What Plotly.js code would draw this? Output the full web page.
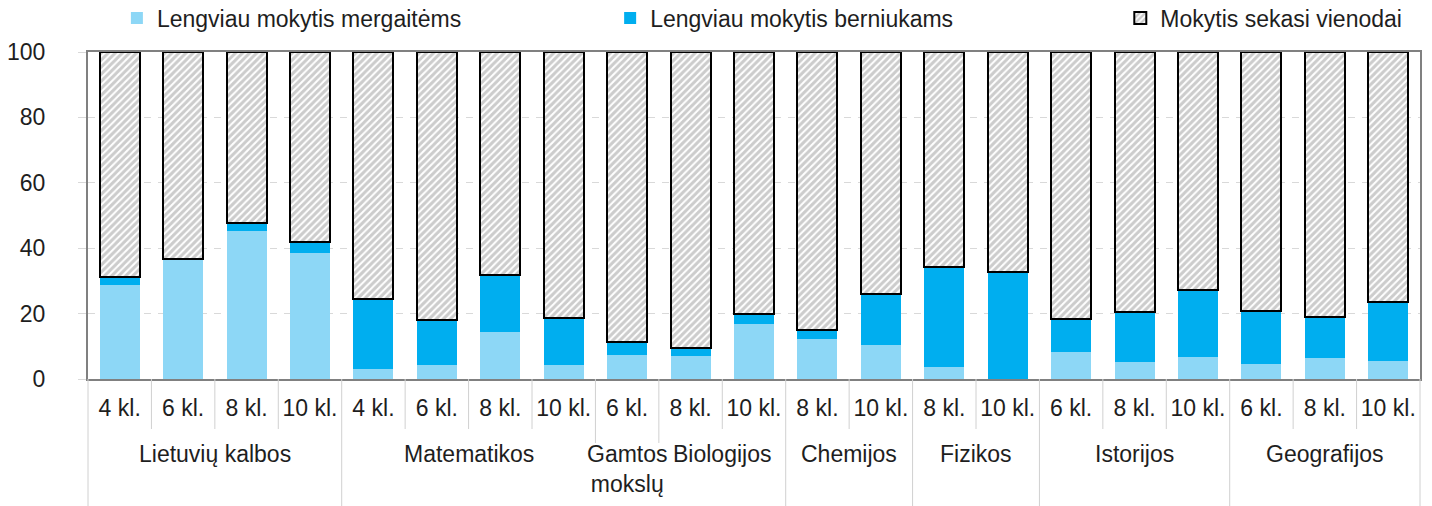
<!DOCTYPE html>
<html>
<head>
<meta charset="utf-8">
<script src="https://cdn.plot.ly/plotly-3.0.1.min.js"></script>
<style>
  html, body { margin: 0; padding: 0; background: #ffffff; }
  #chart { width: 1432px; height: 506px; }
</style>
</head>
<body>
<div id="chart"></div>
<script>
// ---- Data ----
const subjects = ['Lietuvių kalbos', 'Matematikos', 'Gamtos<br>mokslų', 'Biologijos', 'Chemijos', 'Fizikos', 'Istorijos', 'Geografijos'];
const subjectGrades = [
  ['4 kl.', '6 kl.', '8 kl.', '10 kl.'],
  ['4 kl.', '6 kl.', '8 kl.', '10 kl.'],
  ['6 kl.'],
  ['8 kl.', '10 kl.'],
  ['8 kl.', '10 kl.'],
  ['8 kl.', '10 kl.'],
  ['6 kl.', '8 kl.', '10 kl.'],
  ['6 kl.', '8 kl.', '10 kl.']
];
// outer (third-level) grouping: number of subjects per outer block
const outerBlocks = [1, 3, 1, 1, 1, 1];

const seriesNames = ['Lengviau mokytis mergaitėms', 'Lengviau mokytis berniukams', 'Mokytis sekasi vienodai'];
const girls = [28.8, 36.8, 45.4, 38.6, 3.2, 4.4, 14.5, 4.4, 7.4, 7.1, 16.9, 12.3, 10.5, 3.8, 0.0, 8.4, 5.3, 6.7, 4.7, 6.5, 5.6];
const boys  = [2.3, 0.0, 2.2, 3.4, 21.4, 13.7, 17.4, 14.4, 4.0, 2.5, 3.1, 2.8, 15.6, 30.6, 32.8, 10.1, 15.3, 20.6, 16.2, 12.6, 18.0];
const same  = [68.9, 63.2, 52.4, 58.0, 75.4, 81.9, 68.1, 81.2, 88.6, 90.4, 80.0, 84.9, 73.9, 65.6, 67.2, 81.5, 79.4, 72.7, 79.1, 80.9, 76.4];
const yTicks = [0, 20, 40, 60, 80, 100];

// ---- Build categories ----
const gradeLabels = [];
const subjectStart = [];
subjectGrades.forEach(g => { subjectStart.push(gradeLabels.length); g.forEach(l => gradeLabels.push(l)); });
const N = gradeLabels.length;
const xs = gradeLabels.map((_, i) => i);

const FONT = 'Liberation Sans, Arial, sans-serif';
const TXT = '#1e1e1e';
const FS = 23;

const traces = [
  { type: 'bar', name: seriesNames[0], x: xs, y: girls, legend: 'legend',
    marker: { color: '#8dd7f6', line: { width: 0 } } },
  { type: 'bar', name: seriesNames[1], x: xs, y: boys, legend: 'legend2',
    marker: { color: '#00aeef', line: { width: 0 } } },
  { type: 'bar', name: seriesNames[2], x: xs, y: same, legend: 'legend3',
    marker: { color: '#ffffff', line: { color: '#000000', width: 2 },
      pattern: { shape: '/', bgcolor: '#ffffff', fgcolor: '#9a9a9a', size: 5, solidity: 0.6, fillmode: 'overlay' } } }
];

// ---- Separators & group labels (derived from the category arrays) ----
const plotTop = 52, plotBottom = 379, H = plotBottom - plotTop;
const py = (pix) => -(pix - plotBottom) / H;
const shapes = [];
const annotations = [];
const subjectBounds = new Set(subjectStart);
subjectBounds.add(N);
const outerBounds = new Set([0]);
let sIdx = 0;
outerBlocks.forEach(c => {
  sIdx += c;
  outerBounds.add(sIdx < subjects.length ? subjectStart[sIdx] : N);
});
for (let k = 0; k <= N; k++) {
  let yEnd;
  if (outerBounds.has(k)) yEnd = 506;
  else if (subjectBounds.has(k)) yEnd = 443;
  else yEnd = 429;
  shapes.push({ type: 'line', xref: 'paper', yref: 'paper', x0: k / N, x1: k / N, y0: 0, y1: py(yEnd),
    line: { color: '#d0d0d0', width: 1 } });
}
subjects.forEach((s, i) => {
  const a = subjectStart[i];
  const b = a + subjectGrades[i].length;
  annotations.push({ xref: 'paper', yref: 'paper', x: (a + b) / 2 / N, y: py(439), yanchor: 'top', xanchor: 'center',
    text: s, showarrow: false, font: { family: FONT, size: FS, color: TXT } });
});

const legendBase = { orientation: 'h', xanchor: 'left', y: 1.104, yanchor: 'middle',
  font: { family: FONT, size: FS, color: TXT }, bgcolor: 'rgba(0,0,0,0)' };

const layout = {
  width: 1432, height: 506,
  margin: { l: 88, r: 12, t: plotTop, b: 506 - plotBottom, autoexpand: false },
  paper_bgcolor: '#ffffff', plot_bgcolor: '#ffffff',
  barmode: 'stack', bargap: 0.37,
  font: { family: FONT, size: FS, color: TXT },
  showlegend: true,
  legend: Object.assign({}, legendBase, { x: 0.0217 }),
  legend2: Object.assign({}, legendBase, { x: 0.392 }),
  legend3: Object.assign({}, legendBase, { x: 0.775 }),
  xaxis: {
    range: [-0.5, N - 0.5], tickmode: 'array', tickvals: xs, ticktext: gradeLabels,
    ticks: '', showgrid: false, zeroline: false,
    showline: true, linecolor: '#808080', linewidth: 2, mirror: true,
    tickfont: { family: FONT, size: FS, color: TXT }, ticklabelstandoff: 7, tickangle: 0
  },
  yaxis: {
    range: [0, 100], tickmode: 'array', tickvals: yTicks,
    ticks: 'outside', ticklen: 8, tickcolor: '#d9d9d9', tickwidth: 1,
    showgrid: true, gridcolor: '#d9d9d9', gridwidth: 1, griddash: '7px,7px',
    zeroline: false, showline: true, linecolor: '#808080', linewidth: 2, mirror: true,
    tickfont: { family: FONT, size: FS, color: TXT }, ticklabelstandoff: 28
  },
  shapes: shapes,
  annotations: annotations
};

Plotly.newPlot('chart', traces, layout, { displayModeBar: false, staticPlot: true });
</script>
</body>
</html>
